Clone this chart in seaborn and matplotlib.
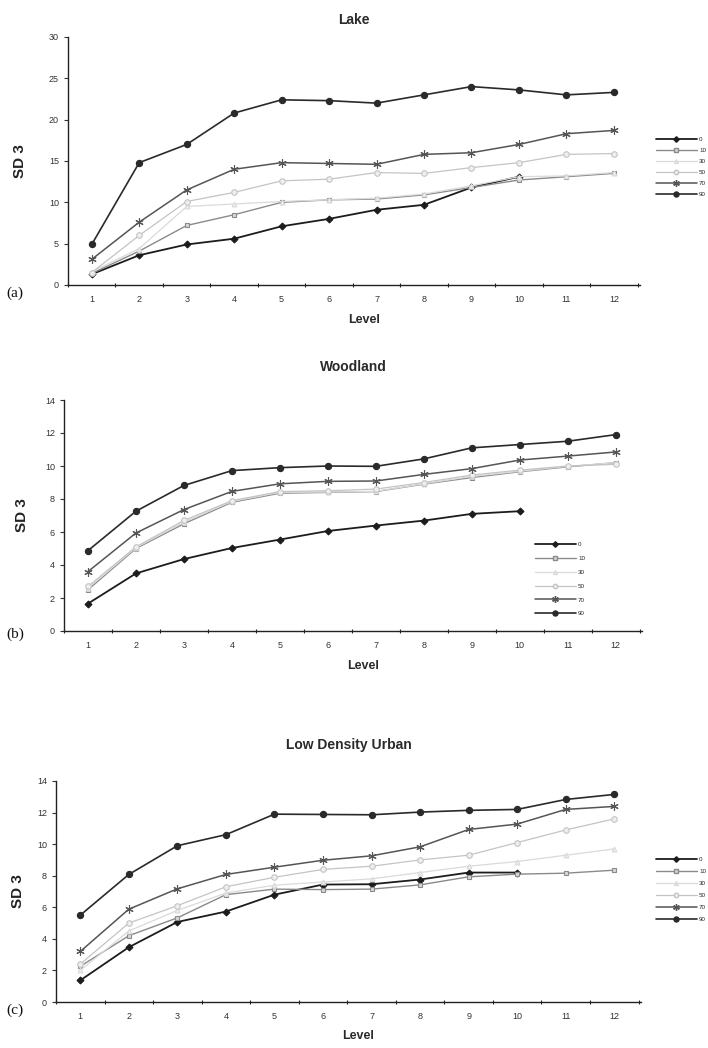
import numpy as np
import pandas as pd
import matplotlib
matplotlib.use("Agg")
import matplotlib.pyplot as plt
import seaborn as sns
from matplotlib.lines import Line2D
from matplotlib.ticker import MultipleLocator

sns.set_theme(style="white")
plt.rcParams['font.family'] = ['Liberation Sans', 'DejaVu Sans']

levels = list(range(1, 13))
series_names = ["0", "10", "30", "50", "70", "90"]

# Panel (a) Lake
lake_0 = [1.3, 3.6, 4.9, 5.6, 7.1, 8.0, 9.1, 9.7, 11.8, 13.1]
lake_10 = [1.4, 4.1, 7.2, 8.5, 10.0, 10.3, 10.4, 10.9, 11.8, 12.7, 13.1, 13.5]
lake_30 = [1.6, 4.4, 9.5, 9.8, 10.1, 10.3, 10.5, 11.0, 12.0, 13.1, 13.2, 13.6]
lake_50 = [1.5, 6.0, 10.1, 11.2, 12.6, 12.8, 13.6, 13.5, 14.2, 14.8, 15.8, 15.9]
lake_70 = [3.1, 7.6, 11.5, 14.0, 14.8, 14.7, 14.6, 15.8, 16.0, 17.0, 18.3, 18.7]
lake_90 = [4.9, 14.8, 17.0, 20.8, 22.4, 22.3, 22.0, 23.0, 24.0, 23.6, 23.0, 23.3]

# Panel (b) Woodland
wood_0 = [1.66, 3.49, 4.36, 5.03, 5.54, 6.06, 6.39, 6.69, 7.1, 7.26]
wood_10 = [2.5, 5.0, 6.5, 7.8, 8.35, 8.4, 8.45, 8.9, 9.3, 9.65, 9.95, 10.2]
wood_30 = [2.6, 5.05, 6.6, 7.85, 8.4, 8.42, 8.46, 8.92, 9.37, 9.68, 9.98, 10.2]
wood_50 = [2.7, 5.1, 6.7, 7.9, 8.45, 8.5, 8.6, 9.0, 9.45, 9.75, 10.0, 10.1]
wood_70 = [3.6, 5.94, 7.36, 8.46, 8.92, 9.07, 9.09, 9.49, 9.84, 10.36, 10.6, 10.85]
wood_90 = [4.87, 7.26, 8.82, 9.72, 9.9, 10.0, 9.98, 10.43, 11.1, 11.3, 11.5, 11.9]

# Panel (c) Low Density Urban
urban_0 = [1.37, 3.47, 5.07, 5.73, 6.8, 7.44, 7.46, 7.76, 8.2, 8.2]
urban_10 = [2.26, 4.2, 5.33, 6.8, 7.15, 7.12, 7.15, 7.42, 7.93, 8.1, 8.16, 8.35]
urban_30 = [2.0, 4.5, 5.8, 6.9, 7.4, 7.6, 7.8, 8.2, 8.6, 8.9, 9.3, 9.7]
urban_50 = [2.4, 5.0, 6.1, 7.3, 7.9, 8.4, 8.6, 9.0, 9.3, 10.1, 10.9, 11.6]
urban_70 = [3.2, 5.88, 7.17, 8.08, 8.54, 8.98, 9.26, 9.83, 10.93, 11.27, 12.2, 12.39]
urban_90 = [5.5, 8.08, 9.9, 10.6, 11.9, 11.88, 11.86, 12.03, 12.14, 12.2, 12.83, 13.15]

panel_titles = ["Lake", "Woodland", "Low Density Urban"]
panel_tags = ["(a)", "(b)", "(c)"]
panel_data = [
    [lake_0, lake_10, lake_30, lake_50, lake_70, lake_90],
    [wood_0, wood_10, wood_30, wood_50, wood_70, wood_90],
    [urban_0, urban_10, urban_30, urban_50, urban_70, urban_90],
]
y_max = [30, 14, 14]
y_step = [5, 2, 2]

styles = {
    "0": dict(color="#1c1c1c", marker="D", ms=3.5, mfc="#1c1c1c", lw=1.3),
    "10": dict(color="#8a8a8a", marker="s", ms=3.5, mfc="#d8d8d8", lw=1.0),
    "30": dict(color="#dadada", marker="^", ms=3.5, mfc="#eeeeee", lw=0.9),
    "50": dict(color="#c4c4c4", marker="o", ms=4, mfc="#eeeeee", lw=0.9),
    "70": dict(color="#555555", marker=(6, 2, 0), ms=6, mfc="#555555", lw=1.1),
    "90": dict(color="#2a2a2a", marker="o", ms=4.5, mfc="#2a2a2a", lw=1.2),
}

W, H = 708, 1048
fig = plt.figure(figsize=(W / 100, H / 100), dpi=100)

# axes boxes in pixels: left, right, top, bottom
boxes = [(68, 640, 37, 285), (64, 642, 400, 631), (56, 641, 781, 1002)]
title_y = [20, 367, 745]
level_y = [320, 666, 1036]
tag_y = [293, 634, 1010]
ylabel_x = [20, 22, 18]
legend_pos = [(656, 137, 0.9), (535, 542, 1.35), (656, 857, 1.05)]

for i in range(3):
    l, r, t, b = boxes[i]
    ax = fig.add_axes([l / W, 1 - b / H, (r - l) / W, (b - t) / H])
    handles = []
    for name, vals in zip(series_names, panel_data[i]):
        st = styles[name]
        df = pd.DataFrame({"Level": levels[:len(vals)], "SD": vals})
        sns.lineplot(data=df, x="Level", y="SD", ax=ax, color=st["color"],
                     marker=st["marker"], markersize=st["ms"],
                     markerfacecolor=st["mfc"], markeredgecolor=st["color"],
                     markeredgewidth=0.8, linewidth=st["lw"], zorder=3)
        handles.append(Line2D([0], [0], color=st["color"], marker=st["marker"],
                              markersize=st["ms"] * 0.8, markerfacecolor=st["mfc"],
                              markeredgecolor=st["color"], lw=st["lw"]))
    ax.set_xlim(0.5, 12.55)
    ax.set_ylim(0, y_max[i])
    ax.set_xticks(levels)
    ax.xaxis.set_minor_locator(MultipleLocator(1, offset=0.5))
    ax.yaxis.set_major_locator(MultipleLocator(y_step[i]))
    ax.tick_params(axis="x", which="major", length=0, labelsize=6.5, pad=7, colors="#333333")
    ax.tick_params(axis="x", which="minor", length=3, width=0.8, direction="inout", color="#222222", bottom=True)
    ax.tick_params(axis="y", which="major", length=3, width=0.8, direction="out", labelsize=6.5, left=True, colors="#333333")
    for s in ["top", "right"]:
        ax.spines[s].set_visible(False)
    for s in ["left", "bottom"]:
        ax.spines[s].set_color("#222222")
        ax.spines[s].set_linewidth(1.0)
    ax.set_xlabel("")
    ax.set_ylabel("")
    ax.grid(False)

    fig.text(((l + r) / 2 - 0) / W, 1 - title_y[i] / H, panel_titles[i], ha="center", va="center",
             fontsize=10, fontweight="bold", color="#2a2a2a")
    fig.text(((l + r) / 2 + 10) / W, 1 - level_y[i] / H, "Level", ha="center", va="center",
             fontsize=9, fontweight="bold", color="#2a2a2a")
    fig.text(ylabel_x[i] / W, 1 - ((t + b) / 2) / H, "SD 3", ha="center", va="center",
             rotation=90, fontsize=11, fontweight="bold", color="#222222")
    fig.text(15 / W, 1 - tag_y[i] / H, panel_tags[i], ha="center", va="center",
             fontsize=11, color="#111111", family=["Liberation Serif", "DejaVu Serif"])

    lx, ly, ls = legend_pos[i]
    fig.legend(handles, series_names, loc="upper left", bbox_to_anchor=(lx / W, 1 - ly / H),
               frameon=False, fontsize=4.5, handlelength=6.5, labelspacing=ls,
               handletextpad=0.4, borderpad=0, borderaxespad=0)

fig.savefig("out.png", dpi=100, facecolor="white")
